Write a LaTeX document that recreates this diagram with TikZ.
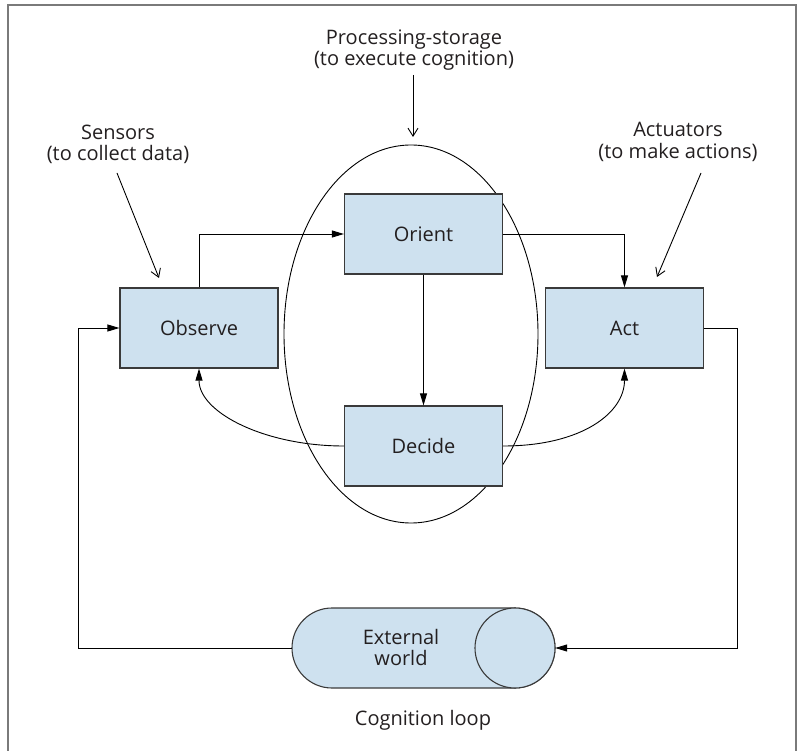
\documentclass[tikz,border=0pt]{standalone}
\usepackage{fontspec}
\setmainfont{Open Sans}
\usetikzlibrary{arrows.meta}
\definecolor{boxfill}{HTML}{CEE1EF}
\definecolor{txt}{HTML}{231F20}
\definecolor{boxline}{HTML}{3A3A3A}
\definecolor{framecol}{HTML}{7A7A7A}
\begin{document}
\begin{tikzpicture}[x=1pt,y=-1pt,
  every node/.style={text=txt, font=\fontsize{20}{21.5}\selectfont},
  stagebox/.style={draw=boxline, line width=1.2pt, fill=boxfill, minimum width=158pt, minimum height=80pt, inner sep=0pt},
  lbl/.style={align=center, inner sep=0pt},
  solidarrow/.style={draw=black, line width=0.9pt, -{Triangle[length=12pt,width=7pt]}},
  openarrow/.style={draw=black, line width=0.9pt, -{Straight Barb[length=8pt,width=10pt]}},
  plainline/.style={draw=black, line width=0.9pt}
]
\useasboundingbox (0,0) rectangle (801,751);
% frame
\draw[framecol, line width=1.6pt] (8,760) -- (8,5) -- (796,5) -- (796,760);

% processing ellipse (behind boxes)
\draw[plainline] (411,334) ellipse [x radius=127, y radius=189];

% stage boxes
\node[stagebox] (obs) at (199,328) {Observe};
\node[stagebox] (ori) at (423.5,234) {Orient};
\node[stagebox] (dec) at (423.5,446) {Decide};
\node[stagebox] (act) at (624.5,328) {Act};

% external world cylinder
\node[draw=none, minimum width=263pt, minimum height=80pt, inner sep=0pt] (ext) at (423.5,648) {};
\draw[draw=boxline, line width=1.1pt, fill=boxfill]
  (332,608) arc[start angle=270, end angle=90, radius=40] -- (515,688)
  arc[start angle=90, end angle=-90, radius=40] -- cycle;
\draw[draw=boxline, line width=1.1pt, fill=boxfill] (515,648) circle[radius=40];
\node[lbl] (extlbl) at (401,647.5) {External\\world};

% labels
\node[lbl] (proclbl) at (414,50) {Processing-storage\\(to execute cognition)};
\node[lbl] (senslbl) at (118,144.5) {Sensors\\(to collect data)};
\node[lbl] (actlbl) at (678,142) {Actuators\\(to make actions)};
\node[lbl] (coglbl) at (423,720) {Cognition loop};

% label arrows
\coordinate (p1) at (413,75);
\coordinate (p2) at (413,137);
\coordinate (s1) at (117,173);
\coordinate (s2) at (159,278);
\coordinate (a1) at (701,173);
\coordinate (a2) at (657,277);
\draw[openarrow] (p1) -- (p2);
\draw[openarrow] (s1) -- (s2);
\draw[openarrow] (a1) -- (a2);

% connectors
\draw[solidarrow] (obs.north) |- (ori.west);
\draw[solidarrow] (ori.east) -| (act.north);
\draw[solidarrow] (ori.south) -- (dec.north);
\draw[solidarrow] (dec.west) .. controls +(-79,0) and +(0,44) .. (obs.south);
\draw[solidarrow] (dec.east) .. controls +(79,0) and +(0,44) .. (act.south);
\coordinate (rr) at (737,328);
\coordinate (ll) at (78,648);
\draw[solidarrow] (act.east) -- (rr) |- (ext.east);
\draw[solidarrow] (ext.west) -- (ll) |- (obs.west);
\end{tikzpicture}
\end{document}
